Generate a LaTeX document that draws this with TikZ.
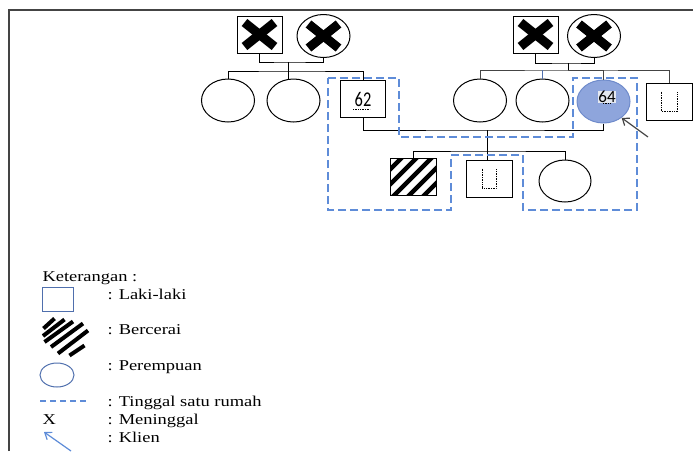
\documentclass[tikz,border=0pt]{standalone}
\usepackage{fontspec}
\setmainfont{Liberation Serif}
\newfontfamily\legendfont[FakeStretch=1.23]{Liberation Serif}
\newfontfamily\numfont{Carlito}
\usetikzlibrary{shapes.geometric,arrows.meta}
\definecolor{househ}{HTML}{5E8CD8}
\definecolor{klienfill}{HTML}{8EA5DC}
\definecolor{klienline}{HTML}{6F8BCB}
\definecolor{legblue}{HTML}{4F6FAD}
\definecolor{framegray}{HTML}{444444}

\begin{document}
\begin{tikzpicture}[x=1pt, y=-1pt, line width=1pt,
    male/.style = {draw, rectangle, minimum width=45pt, minimum height=37pt, inner sep=0pt},
    female/.style = {draw, ellipse, minimum width=53pt, minimum height=43pt, inner sep=0pt},
    dead/.style = {path picture={
        \draw[line width=9pt] ([shift={(-15,-12)}]path picture bounding box.center) -- ([shift={(15,12)}]path picture bounding box.center);
        \draw[line width=9pt] ([shift={(-15,12)}]path picture bounding box.center) -- ([shift={(15,-12)}]path picture bounding box.center);}},
    hatched/.style = {path picture={
        \foreach \k in {-3,...,3}
          \draw[line width=4.5pt] ([shift={(\k*15-30,30)}]path picture bounding box.center) -- ++(60,-60);}},
    house/.style = {draw=househ, dash pattern=on 8pt off 4pt, line width=1.3pt},
    legtext/.style = {anchor=base west, inner sep=0pt, font=\legendfont\fontsize{15}{15}\selectfont},
    klien/.style = {-{Straight Barb[length=6pt,width=9pt]}, line width=1.2pt}]

    \useasboundingbox (0,0) rectangle (693,451);
    \draw[framegray, line width=2pt] (9,451) -- (9,10) -- (693,10);

    % keluarga kiri
    \node[male, dead] (gpa1) at (259.5,34.5) {};
    \node[female, dead] (gma1) at (323.5,36) {};
    \node[female] (c11) at (228,100.5) {};
    \node[female] (c12) at (293.5,100.5) {};
    \node[male] (p62) at (363,99) {\numfont\fontsize{21}{21}\selectfont\scalebox{0.78}[1]{62}};
    \coordinate (m1) at (288,62);
    \coordinate (s1) at (288,71);

    \draw (gpa1.south) |- (m1) -| (gma1.south);
    \draw (m1) -- (m1 |- c12.north);
    \draw (c11.north) |- (s1) -| (p62.north);

    % keluarga kanan
    \node[male, dead] (gpa2) at (535.5,34.5) {};
    \node[female, dead] (gma2) at (594,36) {};
    \node[female] (c21) at (480,100.5) {};
    \node[female] (c22) at (542.5,100.5) {};
    \node[female, fill=klienfill, draw=klienline, minimum width=53pt] (p64) at (603.5,101.5) {};
    \node[fill={rgb,255:red,228;green,232;blue,240}, inner sep=0.5pt, font=\numfont\fontsize{17}{17}\selectfont] (n64) at (607,97) {64};
    \node[male, minimum width=46pt] (c24) at (669.5,101.5) {};
    \coordinate (m2) at (568,63);
    \coordinate (s2) at (568,70);

    \draw (gpa2.south) |- (m2) -| (gma2.south);
    \draw (m2) -- (s2);
    \draw[framegray] (c21.north) |- (s2) -| (c24.north);
    \draw[framegray] (s2) -| (p64.north);
    \draw[legblue] (c22.north) -- (c22.north |- s2);

    % anak
    \node[male, minimum width=46pt, hatched] (ch1) at (413,176.5) {};
    \node[male, minimum width=46pt] (ch2) at (489,178.5) {};
    \node[female, minimum width=52pt, minimum height=42pt] (ch3) at (565,181) {};
    \coordinate (k) at (487,130);
    \coordinate (s3) at (487,151);

    \draw (p62.south) |- (k) -| (p64.south);
    \draw (k) -- (s3);
    \draw (ch1.north) |- (s3) -| (ch3.north);
    \draw (s3) -- (s3 |- ch2.north);

    % kotak kosong
    \draw[densely dotted, line width=0.7pt] ([shift={(-7,-10)}]ch2.center) |- ([shift={(7,10)}]ch2.center) -- ++(0,-20);
    \draw[densely dotted, line width=0.7pt] ([shift={(-8,-10)}]c24.center) |- ([shift={(8,10)}]c24.center) -- ++(0,-20);
    \draw[densely dotted, line width=0.7pt] ([shift={(-10,10)}]p62.center) -- ++(17,0);
    \draw[densely dotted, line width=0.7pt] ([shift={(-4,6)}]n64.center) -- ++(8,0);

    % tinggal satu rumah
    \draw[house] (328,78) -- (399,78) -- (399,137) -- (573,137) -- (573,78) -- (637,78)
        -- (637,210) -- (523,210) -- (523,155) -- (451,155) -- (451,210) -- (328,210) -- cycle;

    % klien
    \coordinate (kt) at (648,137);
    \draw[klien, framegray] (kt) -- (p64.-42);

    % keterangan
    \node[legtext] (ket) at (42,281) {Keterangan :};
    \node[draw=legblue, line width=1pt, minimum width=31pt, minimum height=24pt, inner sep=0pt] (lmale) at (57.5,299) {};
    \node[legtext] (tmale) at (107,299) {: Laki-laki};
    \foreach \a/\b/\c/\d in {43.5/328.5/54.5/318.5, 43/336/64.5/319.5, 44.5/342/73/321.5,
                             51/347/83/323.5, 58/353.5/88/330.5, 69.5/355.5/84.5/345.5}
      \draw[line width=4pt] (\a,\b) -- (\c,\d);
    \node[legtext] (tcerai) at (107,334) {: Bercerai};
    \node[draw=legblue, ellipse, line width=1pt, minimum width=34pt, minimum height=24pt, inner sep=0pt] (lfemale) at (57,375) {};
    \node[legtext] (tfemale) at (107,370) {: Perempuan};
    \coordinate (lh1) at (40,401);
    \coordinate (lh2) at (87,401);
    \draw[house, line width=1.1pt, dash pattern=on 6pt off 4pt] (lh1) -- (lh2);
    \node[legtext] (thouse) at (107,406) {: Tinggal satu rumah};
    \node[legtext] (lx) at (42,424) {X};
    \node[legtext] (tdead) at (107,424) {: Meninggal};
    \coordinate (la1) at (71,451);
    \coordinate (la2) at (44,432);
    \draw[klien, househ] (la1) -- (la2);
    \node[legtext] (tklien) at (107,442) {: Klien};

\end{tikzpicture}
\end{document}
